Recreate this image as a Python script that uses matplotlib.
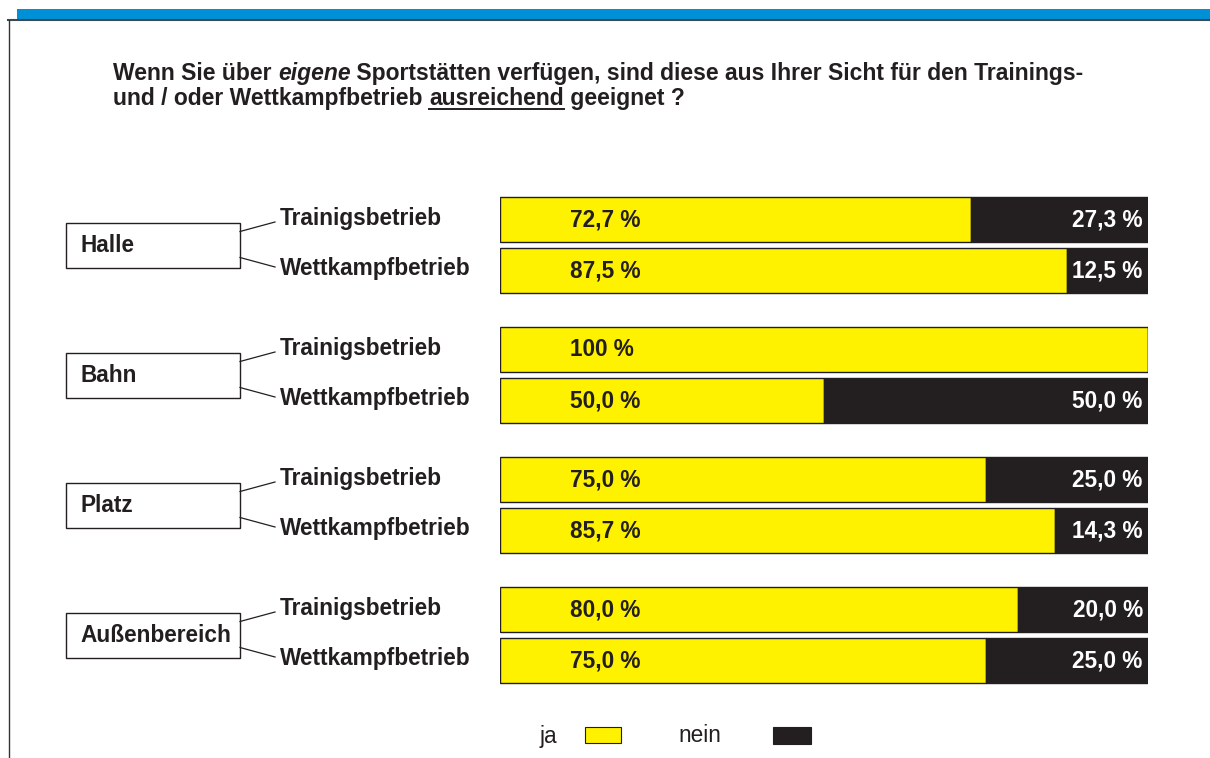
import matplotlib
matplotlib.use("Agg")
import matplotlib.pyplot as plt
from matplotlib.patches import Rectangle

plt.rcParams['font.family'] = ['Liberation Sans', 'DejaVu Sans']

# data
groups = ['Halle', 'Bahn', 'Platz', 'Außenbereich']
kinds = ['Trainigsbetrieb', 'Wettkampfbetrieb']
ja = [72.7, 87.5, 100.0, 50.0, 75.0, 85.7, 80.0, 75.0]
nein = [27.3, 12.5, 0.0, 50.0, 25.0, 14.3, 20.0, 25.0]

YELLOW = '#fff200'
BLACK = '#231f20'
BLUE = '#0090d8'
W, H = 1210, 758
FS = 16.3


def fmt(v):
    if v == 100:
        return '100 %'
    return ('%.1f' % v).replace('.', ',') + ' %'


fig = plt.figure(figsize=(W / 100, H / 100), dpi=100)
bg = fig.add_axes([0, 0, 1, 1])
bg.set_xlim(0, W)
bg.set_ylim(H, 0)
bg.axis('off')

# frame decorations
bg.add_patch(Rectangle((17, 9), W - 17, 10, color=BLUE, lw=0))
bg.plot([8, W], [19.5, 19.5], color='#3a4a55', lw=1.5)
bg.plot([8.5, 8.5], [19.5, H], color='#333333', lw=1)

# title with mixed styles
fig.canvas.draw()
r = fig.canvas.get_renderer()


def run(parts, x, y, size=16.5):
    for txt, style, ul in parts:
        t = bg.text(x, y, txt, fontsize=size, fontweight='bold', style=style,
                    va='baseline', ha='left', color=BLACK)
        w = t.get_window_extent(renderer=r).width
        if ul:
            bg.plot([x, x + w], [y + 3.5, y + 3.5], color=BLACK, lw=1.4)
        x += w


run([('Wenn Sie über ', 'normal', False), ('eigene', 'italic', False),
     (' Sportstätten verfügen, sind diese aus Ihrer Sicht für den Trainings-', 'normal', False)],
    113, 80)
run([('und / oder Wettkampfbetrieb ', 'normal', False), ('ausreichend', 'normal', True),
     (' geeignet ?', 'normal', False)], 113, 105)

# layout of rows
y0, gstep, sstep, bh = 219, 130, 51, 45
ys = [y0 + g * gstep + s * sstep for g in range(len(groups)) for s in range(len(kinds))]

# group boxes, connectors and row labels
for g, name in enumerate(groups):
    yt = y0 + g * gstep
    yb = yt + sstep
    ym = (yt + yb) / 2
    bg.add_patch(Rectangle((66, ym - 22), 174, 45, fill=False, ec=BLACK, lw=1))
    bg.text(80, ym + 1, name, fontsize=FS, fontweight='bold', va='center', ha='left', color=BLACK)
    bg.plot([240, 275], [ym - 13, yt + 3], color=BLACK, lw=0.9)
    bg.plot([240, 275], [ym + 13, yb - 3], color=BLACK, lw=0.9)
    for s, k in enumerate(kinds):
        bg.text(280, yt + s * sstep - 1, k, fontsize=FS, fontweight='bold',
                va='center', ha='left', color=BLACK)

# bars
ax = fig.add_axes([500 / W, 0, 648 / W, 1])
ax.set_xlim(0, 100)
ax.set_ylim(H, 0)
ax.axis('off')
ax.barh(ys, ja, height=bh, color=YELLOW, edgecolor=BLACK, lw=1)
ax.barh(ys, nein, left=ja, height=bh, color=BLACK, edgecolor=BLACK, lw=1)
for y, a, n in zip(ys, ja, nein):
    ax.text(10.8, y + 1, fmt(a), fontsize=FS, fontweight='bold', ha='left', va='center', color=BLACK)
    if n > 0:
        ax.text(99.2, y + 1, fmt(n), fontsize=FS, fontweight='bold', ha='right', va='center', color='white')

# legend
bg.text(540, 736, 'ja', fontsize=FS, va='center', ha='left', color=BLACK)
bg.add_patch(Rectangle((585, 727), 36, 16, fc=YELLOW, ec=BLACK, lw=0.8))
bg.text(678, 735, 'nein', fontsize=FS, va='center', ha='left', color=BLACK)
bg.add_patch(Rectangle((773, 727), 38, 17, fc=BLACK, ec=BLACK, lw=0.8))

fig.savefig('out.png', dpi=100)
